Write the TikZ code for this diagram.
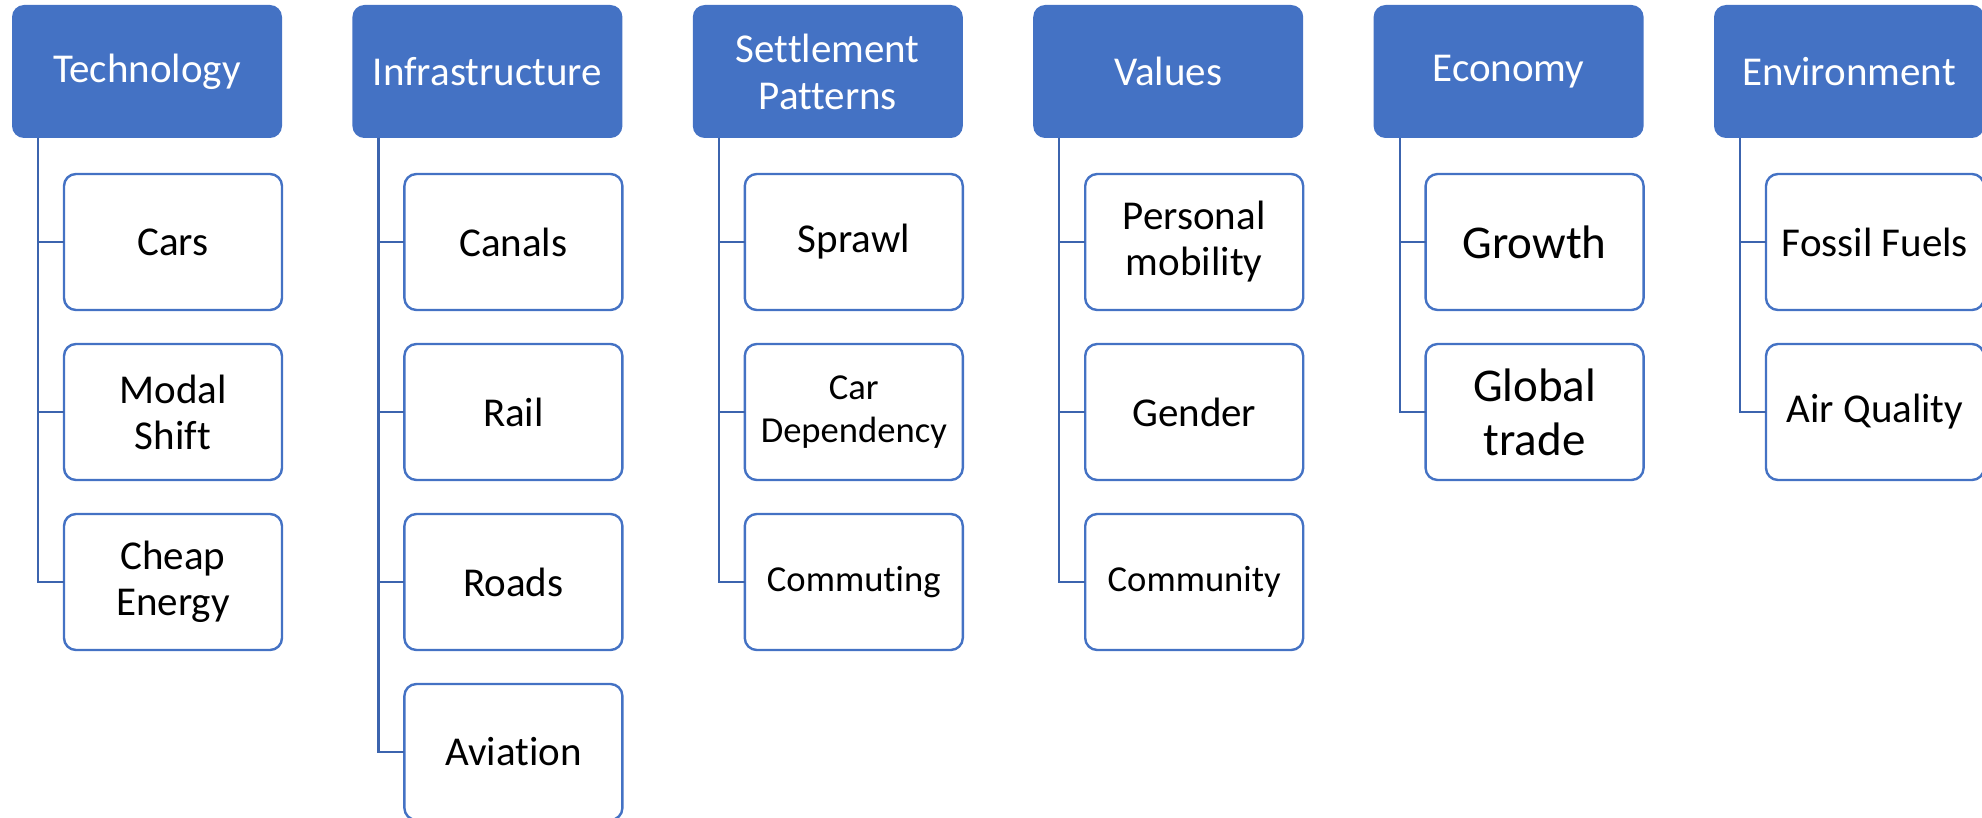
\documentclass[tikz,border=0pt]{standalone}
\usepackage{fontspec}
\setmainfont{Carlito}[Ligatures=NoCommon]
\usetikzlibrary{positioning}

\definecolor{hdblue}{HTML}{4472C4}
\definecolor{lineblue}{HTML}{3C64AE}

\begin{document}
\begin{tikzpicture}[node distance=17pt,
    head/.style={rectangle, rounded corners=6pt, fill=hdblue, text=white,
      minimum width=135pt, minimum height=66.5pt, inner sep=0pt, outer sep=0pt,
      align=center, font=\fontsize{20.5}{23.5}\selectfont},
    item/.style={rectangle, rounded corners=6pt, draw=hdblue, line width=1.2pt,
      fill=white, minimum width=109pt, minimum height=68pt, inner sep=0pt,
      outer sep=0pt, align=center, font=\fontsize{20.5}{23}\selectfont},
    small/.style={font=\fontsize{18.3}{21.5}\selectfont},
    big/.style={font=\fontsize{23.5}{27}\selectfont},
    link/.style={draw=lineblue, line width=1.1pt}]

  \useasboundingbox (0,0) rectangle (991pt,-409pt);

  % top row
  \node[head] (tech) at (73.5pt,-35.75pt) {Technology};
  \node[head, right=35.2pt of tech]   (infra)  {Infrastructure};
  \node[head, right=35.2pt of infra]  (settle) {Settlement\\Patterns};
  \node[head, right=35.2pt of settle] (values) {Values};
  \node[head, right=35.2pt of values] (econ)   {Economy};
  \node[head, right=35.2pt of econ]   (env)    {Environment};

  % Technology
  \node[item, below=18pt of tech.south east, anchor=north east] (cars) {Cars};
  \node[item, below=of cars]  (modal) {Modal\\Shift};
  \node[item, below=of modal] (cheap) {Cheap\\Energy};

  % Infrastructure
  \node[item, below=18pt of infra.south east, anchor=north east] (canals) {Canals};
  \node[item, below=of canals] (rail)     {Rail};
  \node[item, below=of rail]   (roads)    {Roads};
  \node[item, below=of roads]  (aviation) {Aviation};

  % Settlement Patterns
  \node[item, below=18pt of settle.south east, anchor=north east] (sprawl) {Sprawl};
  \node[item, small, below=of sprawl] (cardep)  {Car\\Dependency};
  \node[item, small, below=of cardep] (commute) {Commut\kern0pt ing};

  % Values
  \node[item, below=18pt of values.south east, anchor=north east] (mobility) {Personal\\mobility};
  \node[item, below=of mobility]      (gender)    {Gender};
  \node[item, small, below=of gender] (community) {Community};

  % Economy
  \node[item, big, below=18pt of econ.south east, anchor=north east] (growth) {Growth};
  \node[item, big, below=of growth] (trade) {Global\\trade};

  % Environment
  \node[item, below=18pt of env.south east, anchor=north east] (fossil) {Fossil Fuels};
  \node[item, below=of fossil] (air) {Air Quality};

  \foreach \h/\c in {tech/cars, tech/modal, tech/cheap,
                     infra/canals, infra/rail, infra/roads, infra/aviation,
                     settle/sprawl, settle/cardep, settle/commute,
                     values/mobility, values/gender, values/community,
                     econ/growth, econ/trade,
                     env/fossil, env/air}
    \draw[link] ([xshift=13pt]\h.south west) |- (\c.west);

\end{tikzpicture}
\end{document}
